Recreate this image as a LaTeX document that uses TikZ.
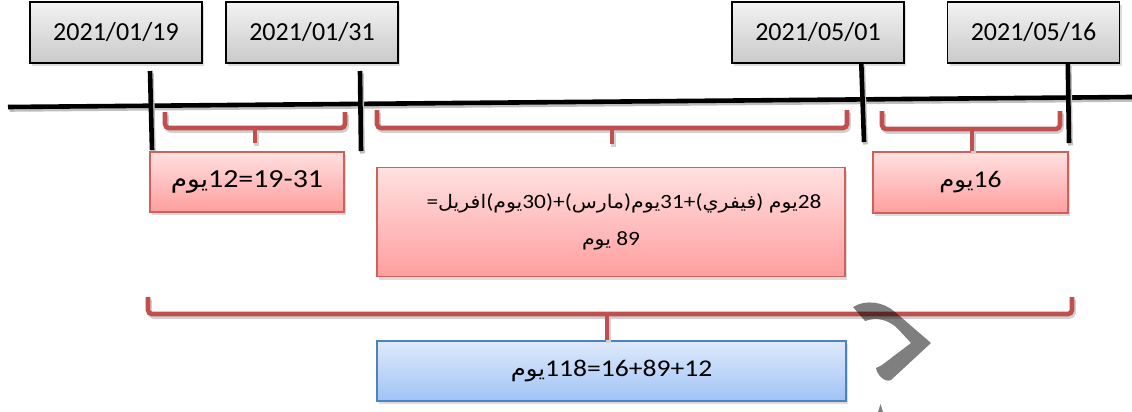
\documentclass[tikz,border=0pt]{standalone}
\usepackage{fontspec}
\setmainfont{Carlito}
\newfontfamily\boxfont[FakeStretch=1.15]{Carlito}
\newfontfamily\arabicfont[Script=Arabic,Scale=0.92,FakeStretch=1.1]{DejaVu Sans}
\TeXXeTstate=1
\usetikzlibrary{shadows,calc}
\newcommand{\arw}[1]{{\arabicfont\beginR #1\endR}}
\definecolor{bracered}{HTML}{C0504D}
\definecolor{boxred}{HTML}{D0605C}
\definecolor{boxblue}{HTML}{4F81BD}
\tikzset{
  softshadow/.style={drop shadow={opacity=0.28,shadow xshift=2pt,shadow yshift=-3pt}},
  datebox/.style={draw=black,line width=1.4pt,top color=gray!10,bottom color=gray!42,
    minimum width=172pt,minimum height=61pt,inner sep=0pt,softshadow,
    font=\fontsize{26}{30}\selectfont},
  redbox/.style={draw=boxred,line width=1.2pt,top color=red!12,bottom color=red!38,
    inner sep=0pt,softshadow},
  bluebox/.style={draw=boxblue,line width=1.2pt,top color={rgb,255:red,222;green,234;blue,252},
    bottom color={rgb,255:red,160;green,195;blue,245},
    minimum width=469pt,minimum height=60pt,inner sep=0pt,softshadow},
  axisline/.style={line width=4.6pt,black,
    preaction={draw=black!25,line width=4.6pt,transform canvas={xshift=1.5pt,yshift=-2.5pt}}},
  brace/.style={line width=4.6pt,bracered,rounded corners=4pt,
    preaction={draw=black!18,line width=4.6pt,transform canvas={xshift=1.5pt,yshift=-2.5pt}}},
}
\begin{document}
\begin{tikzpicture}[x=1pt,y=-1pt]
\useasboundingbox (0,0) rectangle (1132,412);

% date labels
\node[datebox] (d1) at (116,32.5)  {2021/01/19};
\node[datebox] (d2) at (312,32.5)  {2021/01/31};
\node[datebox] (d3) at (818,32.5)  {2021/05/01};
\node[datebox] (d4) at (1033.5,32.5) {2021/05/16};

% time axis and tick marks
\coordinate (axL) at (8,107);
\coordinate (axR) at (1132,97);
\coordinate (t1a) at (150,71);  \coordinate (t1b) at (152,150);
\coordinate (t2a) at (360,71);  \coordinate (t2b) at (361,151);
\coordinate (t3b) at (864,142);
\coordinate (t4b) at (1069,143);
\draw[axisline] (axL) -- (axR);
\draw[axisline] (t1a) -- (t1b);
\draw[axisline] (t2a) -- (t2b);
\draw[axisline] ([xshift=130pt]d3.south west) -- (t3b);
\draw[axisline] ([xshift=121pt]d4.south west) -- (t4b);

% day counts
\node[redbox,minimum width=194pt,minimum height=60pt,
  font=\boxfont\fontsize{26}{30}\selectfont] (b1) at (247,182)
  {\arw{يوم}12=19-31};
\node[redbox,minimum width=468pt,minimum height=109pt,align=center,
  font=\boxfont\fontsize{20.3}{37}\selectfont] (b2) at (611,222)
  {\hbox{\kern26pt=\arw{افريل}(\arw{يوم}30)+(\arw{مارس})\arw{يوم}31+(\arw{فيفري}) \arw{يوم}28}\\
   \hbox{\arw{يوم} 89}};
\node[redbox,minimum width=195pt,minimum height=61pt,
  font=\boxfont\fontsize{24}{29}\selectfont] (b3) at (970.5,182.5)
  {\arw{يوم}16};
\node[bluebox,font=\boxfont\fontsize{24}{29}\selectfont] (tot) at (611.5,371)
  {\arw{يوم}118=16+89+12};

% braces
\coordinate (s1) at (255,143);
\coordinate (s2) at (612,144);
\draw[brace] (165,112) -- (165,128) -- (345,128) -- (345,112);
\draw[brace] (255,128) -- (s1);
\draw[brace] (377,110) -- (377,128) -- (847,128) -- (847,110);
\draw[brace] (612,128) -- (s2);
\draw[brace] (882,111) -- (882,129) -- (1060,129) -- (1060,111);
\draw[brace] (972,129) -- (b3.north -| 972,0);
\draw[brace] (148,297) -- (148,314) -- (1072,314) -- (1072,297);
\draw[brace] (607,314) -- (tot.north -| 607,0);

% grey hook mark
\fill[black,opacity=0.5] (853,307) .. controls (866,299) and (884,302) .. (895,312)
  -- (931,343) -- (891,380) .. controls (885,383) and (877,375) .. (876,368)
  -- (882,365) -- (911,343) -- (899,330) .. controls (889,319) and (876,317) .. (865,321)
  -- cycle;
\fill[black,opacity=0.5] (878,412) -- (880.5,404) -- (883,412) -- cycle;
\end{tikzpicture}
\end{document}
